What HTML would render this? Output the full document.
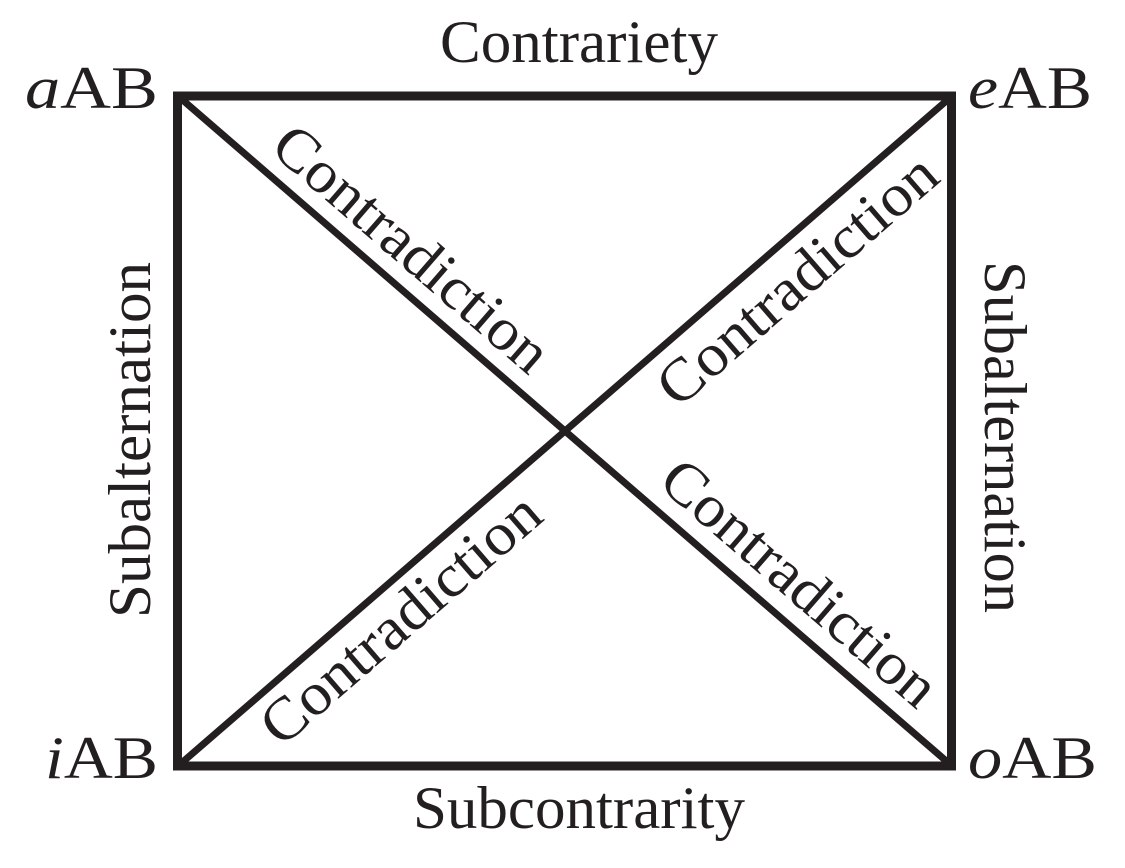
<!DOCTYPE html>
<html><head><meta charset="utf-8"><style>
html,body{margin:0;padding:0;background:#fff;}
svg{display:block;}
text{font-family:"Liberation Serif",serif;font-size:60px;fill:#231f20;}
</style></head><body>
<svg width="1125" height="868" viewBox="0 0 1125 868" xmlns="http://www.w3.org/2000/svg">
<g stroke="#231f20" stroke-width="9" fill="none">
<rect x="177.5" y="96" width="774" height="670"/>
</g>
<g stroke="#231f20" stroke-width="7">
<line x1="178" y1="96" x2="952" y2="766"/>
<line x1="952" y1="96" x2="178" y2="766"/>
</g>
<text x="579" y="62" text-anchor="middle" textLength="278" lengthAdjust="spacingAndGlyphs">Contrariety</text>
<text x="579" y="828" text-anchor="middle" textLength="332" lengthAdjust="spacingAndGlyphs">Subcontrarity</text>
<text x="25" y="108" textLength="133" lengthAdjust="spacingAndGlyphs"><tspan font-style="italic">a</tspan>AB</text>
<text x="968" y="108" textLength="124" lengthAdjust="spacingAndGlyphs"><tspan font-style="italic">e</tspan>AB</text>
<text x="45" y="778" textLength="113" lengthAdjust="spacingAndGlyphs"><tspan font-style="italic">i</tspan>AB</text>
<text x="968" y="778" textLength="129" lengthAdjust="spacingAndGlyphs"><tspan font-style="italic">o</tspan>AB</text>
<text transform="translate(150,440) rotate(-90)" text-anchor="middle" textLength="356" lengthAdjust="spacingAndGlyphs">Subalternation</text>
<text transform="translate(985,437) rotate(90)" text-anchor="middle" textLength="352" lengthAdjust="spacingAndGlyphs">Subalternation</text>
<text transform="translate(387,277) rotate(40.9)" y="-18" text-anchor="middle" textLength="345" lengthAdjust="spacingAndGlyphs">Contradiction</text>
<text transform="translate(774.5,612) rotate(40.9)" y="-19" text-anchor="middle" textLength="345" lengthAdjust="spacingAndGlyphs">Contradiction</text>
<text transform="translate(772,251) rotate(-40.9)" y="58" text-anchor="middle" textLength="350" lengthAdjust="spacingAndGlyphs">Contradiction</text>
<text transform="translate(378,593) rotate(-40.9)" y="54" text-anchor="middle" textLength="350" lengthAdjust="spacingAndGlyphs">Contradiction</text>
</svg>
</body></html>
